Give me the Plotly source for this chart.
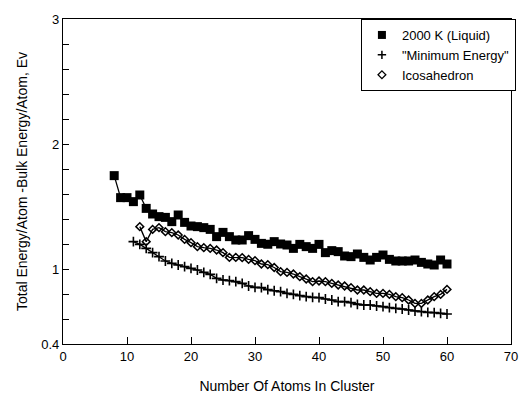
import plotly.graph_objects as go

# ---------------- data ----------------
liquid_n = list(range(8, 61))
liquid_e = [1.747, 1.571, 1.571, 1.539, 1.592, 1.485, 1.44, 1.419, 1.413, 1.379,
            1.432, 1.373, 1.344, 1.339, 1.331, 1.317, 1.259, 1.293, 1.259, 1.232,
            1.232, 1.267, 1.237, 1.205, 1.198, 1.219, 1.2, 1.192, 1.165, 1.197,
            1.179, 1.165, 1.197, 1.131, 1.147, 1.139, 1.104, 1.099, 1.12, 1.093,
            1.072, 1.093, 1.112, 1.077, 1.064, 1.064, 1.064, 1.072, 1.053, 1.04,
            1.032, 1.072, 1.04]

minimum_n = list(range(11, 61))
minimum_e = [1.219, 1.197, 1.165, 1.131, 1.099, 1.064, 1.045, 1.032, 1.019, 1.005,
             0.992, 0.973, 0.957, 0.925, 0.912, 0.907, 0.899, 0.885, 0.864, 0.853,
             0.851, 0.835, 0.826, 0.819, 0.805, 0.797, 0.787, 0.779, 0.773, 0.771,
             0.76, 0.752, 0.739, 0.739, 0.731, 0.717, 0.712, 0.712, 0.704, 0.699,
             0.691, 0.685, 0.68, 0.672, 0.664, 0.659, 0.653, 0.651, 0.645, 0.64]

icosa_n = list(range(12, 61))
icosa_e = [1.339, 1.219, 1.317, 1.331, 1.299, 1.291, 1.272, 1.237, 1.211, 1.179,
           1.171, 1.165, 1.152, 1.131, 1.093, 1.093, 1.091, 1.077, 1.067, 1.04,
           1.035, 1.012, 0.979, 0.973, 0.96, 0.939, 0.92, 0.899, 0.904, 0.899,
           0.885, 0.872, 0.864, 0.851, 0.832, 0.832, 0.819, 0.805, 0.805, 0.797,
           0.779, 0.771, 0.752, 0.725, 0.725, 0.752, 0.779, 0.797, 0.837]

names = ["2000 K (Liquid)", "\"Minimum Energy\"", "Icosahedron"]
x_ticks = [0, 10, 20, 30, 40, 50, 60, 70]
y_ticks = [0.4, 1, 2, 3]
y_ticklabels = ["0.4", "1", "2", "3"]

FONT = "Liberation Sans, Arial, Helvetica, sans-serif"

fig = go.Figure()

series = [
    (liquid_n, liquid_e, dict(symbol="square", size=9, color="black")),
    (minimum_n, minimum_e, dict(symbol="cross-thin", size=7, color="black",
                                line=dict(width=1.6, color="black"))),
    (icosa_n, icosa_e, dict(symbol="diamond-open", size=6, color="black",
                            line=dict(width=1.5, color="black"))),
]

for (xs, ys, mk), nm in zip(series, names):
    fig.add_trace(go.Scatter(x=xs, y=ys, mode="lines+markers",
                             line=dict(color="black", width=1.3),
                             marker=mk, showlegend=False, name=nm))

legend_markers = [
    dict(symbol="square", size=8, color="black"),
    dict(symbol="cross-thin", size=6, color="black", line=dict(width=1.5, color="black")),
    dict(symbol="diamond-open", size=6, color="black", line=dict(width=1.3, color="black")),
]
for nm, mk in zip(names, legend_markers):
    fig.add_trace(go.Scatter(x=[None], y=[None], mode="markers", marker=mk,
                             name=nm, showlegend=True))

fig.update_layout(
    width=526, height=404,
    margin=dict(l=63, r=8, t=19, b=60),
    paper_bgcolor="white", plot_bgcolor="white",
    font=dict(family=FONT, size=13, color="black"),
    legend=dict(x=0.665, y=1.0, xanchor="left", yanchor="top",
                bgcolor="white", bordercolor="black", borderwidth=1,
                font=dict(family=FONT, size=13, color="black"),
                tracegroupgap=0),
    xaxis=dict(range=[0, 70], tickvals=x_ticks, ticks="inside", ticklen=7,
               tickcolor="black", showline=True, linecolor="black", linewidth=1.2,
               mirror=True, showgrid=False, zeroline=False,
               tickfont=dict(size=13),
               title=dict(text="Number Of Atoms In Cluster", font=dict(size=14),
                          standoff=18)),
    yaxis=dict(range=[0.4, 3], tickvals=y_ticks, ticktext=y_ticklabels,
               ticks="inside", ticklen=6, tickcolor="black",
               showline=True, linecolor="black", linewidth=1.2, mirror=True,
               showgrid=False, zeroline=False, tickfont=dict(size=13),
               minor=dict(ticks="inside", ticklen=6, tickcolor="black",
                          tick0=0.4, dtick=0.2, showgrid=False),
               title=dict(text="Total Energy/Atom -Bulk Energy/Atom, Ev",
                          font=dict(size=14), standoff=10)),
)

fig.write_html("out.html")
